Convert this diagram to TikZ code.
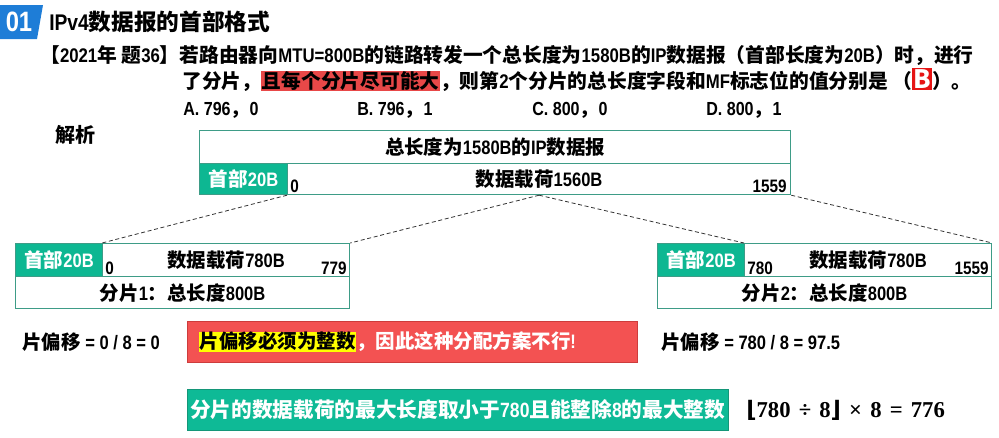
\documentclass[tikz,border=0pt]{standalone}
\usepackage{fix-cm}
\usepackage[no-math]{fontspec}
\setmainfont{Noto Sans CJK SC}
\newfontfamily\narrowfont{Liberation Sans}[FakeStretch=0.85]
\newfontfamily\seriffont{Liberation Serif}
\newfontfamily\bracketfont{DejaVu Sans}
\usetikzlibrary{positioning}

\definecolor{badgeblue}{RGB}{30,125,215}
\definecolor{hdrgreen}{RGB}{13,183,146}
\definecolor{boxline}{RGB}{62,156,135}
\definecolor{hlred}{RGB}{232,72,72}
\definecolor{ansred}{RGB}{230,20,20}
\definecolor{warnred}{RGB}{243,82,82}
\definecolor{warnline}{RGB}{205,60,60}
\definecolor{hlyellow}{RGB}{255,255,0}
\definecolor{rulegreen}{RGB}{14,186,150}
\definecolor{ruleline}{RGB}{20,150,120}

\newcommand{\fsz}[1]{\fontsize{#1}{#1}\selectfont}
\newcommand{\en}[1]{{\narrowfont #1}}
\newcommand{\gap}{\hspace{0.36em}}

\begin{document}
\begin{tikzpicture}[x=0.75pt,y=-0.75pt,
    txt/.style={anchor=west,inner sep=0pt,font=\bfseries\fsz{14.8}},
    cell/.style={draw=boxline,line width=0.9pt,anchor=north west,inner sep=0pt,font=\bfseries\fsz{14.6}},
    hcell/.style={cell,fill=hdrgreen,text=white},
    idx/.style={inner sep=0pt,font=\bfseries\narrowfont\fsz{13.5}},
    cutline/.style={draw=black!80,line width=0.6pt,dash pattern=on 3pt off 2pt}]
  \useasboundingbox (0,0) rectangle (999,437);

  % heading
  \fill[badgeblue] (0,5) -- (43,5) -- (37,39) -- (0,39) -- cycle;
  \node[text=white,font=\bfseries\narrowfont\fsz{21}] (badge) at (19,22) {01};
  \node[txt,font=\bfseries\fsz{17}] (title) at (49,22) {\en{IPv4}数据报的首部格式};

  % question
  \node[txt] (qline1) at (40,55) {【\en{2021}年 题\en{36}】若路由器向\en{MTU=800B}的链路转发一个总长度为\en{1580B}的\en{IP}数据报（首部长度为\en{20B}）时，进行};
  \node[txt] (qline2) at (182,80) {\setlength{\fboxsep}{0.5pt}了分片，\colorbox{hlred}{且每个分片尽可能大}，则第\en{2}个分片的总长度字段和\en{MF}标志位的值分别是\hspace{0.2em}（\setlength{\fboxsep}{1pt}\colorbox{ansred}{\textcolor{white}{\fsz{19}B}}）。};
  \node[txt,font=\bfseries\fsz{14.2}] (optA) at (183,110) {\en{A. 796}，\en{0}};
  \node[txt,font=\bfseries\fsz{14.2}] (optB) at (357,110) {\en{B. 796}，\en{1}};
  \node[txt,font=\bfseries\fsz{14.2}] (optC) at (532,110) {\en{C. 800}，\en{0}};
  \node[txt,font=\bfseries\fsz{14.2}] (optD) at (706,110) {\en{D. 800}，\en{1}};
  \node[txt,font=\bfseries\fsz{15}] (answer) at (55,135) {解析};

  % original datagram
  \node[cell,minimum width=443.25pt,minimum height=24.75pt] (whole) at (199,130) {总长度为\en{1580B}的\en{IP}数据报};
  \node[hcell,minimum width=66pt,minimum height=23.25pt] (wholehdr) at (199,163) {首部\en{20B}};
  \node[cell,minimum width=377.25pt,minimum height=23.25pt] (wholepay) at (287,163) {数据载荷\en{1560B}};
  \node[idx,anchor=base west] (w0) at (290,192) {0};
  \node[idx,anchor=base east] (w1559) at (787,192) {1559};

  % fragment 1
  \node[hcell,minimum width=65.25pt,minimum height=24.75pt] (f1hdr) at (15,243) {首部\en{20B}};
  \node[cell,minimum width=185.25pt,minimum height=24.75pt] (f1pay) at (102,243) {数据载荷\en{780B}};
  \node[cell,minimum width=250.5pt,minimum height=24pt] (f1len) at (15,276) {分片\en{1}：总长度\en{800B}};
  \node[idx,anchor=base west] (f10) at (105,274) {0};
  \node[idx,anchor=base east] (f1779) at (347,274) {779};

  % fragment 2
  \node[hcell,minimum width=65.25pt,minimum height=24.75pt] (f2hdr) at (657,243) {首部\en{20B}};
  \node[cell,minimum width=185.25pt,minimum height=24.75pt] (f2pay) at (744,243) {数据载荷\en{780B}};
  \node[cell,minimum width=250.5pt,minimum height=24pt] (f2len) at (657,276) {分片\en{2}：总长度\en{800B}};
  \node[idx,anchor=base west] (f2780) at (747,274) {780};
  \node[idx,anchor=base east] (f21559) at (989,274) {1559};

  \draw[cutline] (wholepay.south west) -- (f1pay.north west);
  \draw[cutline] (wholepay.south) -- (f1pay.north east);
  \draw[cutline] (wholepay.south) -- (f2pay.north west);
  \draw[cutline] (wholepay.south east) -- (f2pay.north east);

  % offsets
  \node[txt,font=\bfseries\fsz{14.6}] (off1) at (22,342) {片偏移\en{ = 0 / 8 = 0}};
  \node[draw=warnline,fill=warnred,anchor=north west,inner ysep=0pt,inner xsep=9pt,
        text width=319.5pt,minimum height=30.75pt,align=left,text=white,font=\bfseries\fsz{14.6}]
        (warn) at (187,321) {\setlength{\fboxsep}{0.5pt}\colorbox{hlyellow}{\textcolor{black}{片偏移必须为整数}}，因此这种分配方案不行\en{!}};
  \node[txt,font=\bfseries\fsz{14.6}] (off2) at (661,342) {片偏移\en{ = 780 / 8 = 97.5}};

  % largest payload
  \node[draw=ruleline,fill=rulegreen,anchor=north west,inner sep=0pt,minimum width=405.75pt,
        minimum height=30.75pt,text=white,font=\bfseries\fsz{15.5}] (rule) at (187,389) {分片的数据载荷的最大长度取小于\en{780}且能整除\en{8}的最大整数};
  \node[anchor=west,inner sep=0pt,font=\bfseries\seriffont\fsz{17}] (result) at (746,410)
        {{\bracketfont ⌊}780\gap÷\gap8{\bracketfont ⌋}\gap×\gap8\gap=\gap776};
\end{tikzpicture}
\end{document}
